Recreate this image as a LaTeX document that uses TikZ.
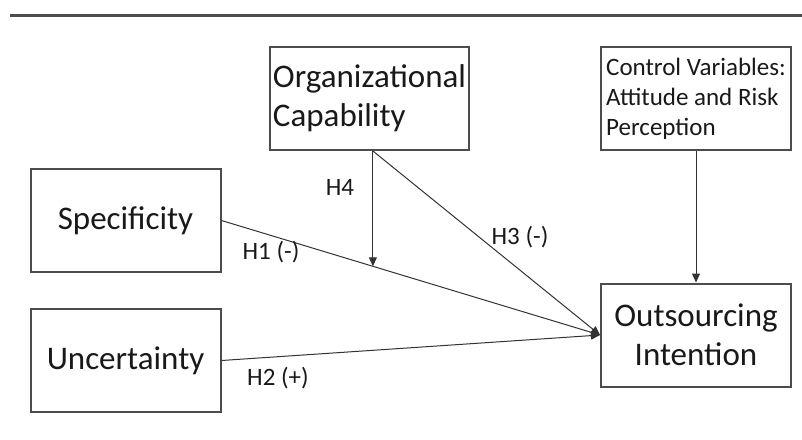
\documentclass[tikz,border=0pt]{standalone}
\usepackage{fontspec}
\setmainfont{Carlito}
\usetikzlibrary{arrows.meta}
\usetikzlibrary{positioning, calc}
\tikzset{
construct/.style = { rectangle, draw = black!70, line width = 2pt, fill = white, minimum width = 190pt, minimum height = 103pt, inner sep = 3pt, align = center, text = black!90, font = \fontsize{33}{39}\selectfont },
control box/.style = { construct, align = left, font = \fontsize{25}{30}\selectfont },
link/.style = { draw = black!80, line width = 1pt, -{Triangle[length = 9pt, width = 8pt]} },
hyp/.style = { text = black!90, inner sep = 0pt, font = \fontsize{25}{30}\selectfont },
}

\begin{document}
\begin{tikzpicture}[x = 1pt, y = -1pt]
      \useasboundingbox (0, 0) rectangle (802, 439);
      \draw[black!70, line width = 3pt] (10, 15) -- (802, 15);
      % constructs
      \node[construct, align = left, minimum width = 198pt] (org) at (369.5, 98.5) {Organizational\\Capability};
      \node[control box] (ctrl) at (696, 98.5) {Control Variables:\\Attitude and Risk\\Perception};
      \node[construct] (spec) at (125.5, 220.5) {Specificity};
      \node[construct] (unc) at (125.5, 360.5) {Uncertainty};
      \node[construct] (out) at (696, 335) {Outsourcing\\Intention};
      % paths
      \coordinate (mod) at ($(spec.east)!0.4!(out.west)$);
      \coordinate (orgfoot) at (org.south -| mod);
      \draw[link] (spec.east) -- (out.west);
      \draw[link] (unc.east) -- (out.west);
      \draw[link] (orgfoot) -- (out.west);
      \draw[link] (orgfoot) -- (mod);
      \draw[link] (ctrl.south) -- (out.north);
      % hypotheses
      \node[hyp] (h1) at (271, 252) {H1 (-)};
      \node[hyp] (h2) at (278, 378) {H2 (+)};
      \node[hyp] (h3) at (520, 237) {H3 (-)};
      \node[hyp] (h4) at (340, 187) {H4};
\end{tikzpicture}
\end{document}
